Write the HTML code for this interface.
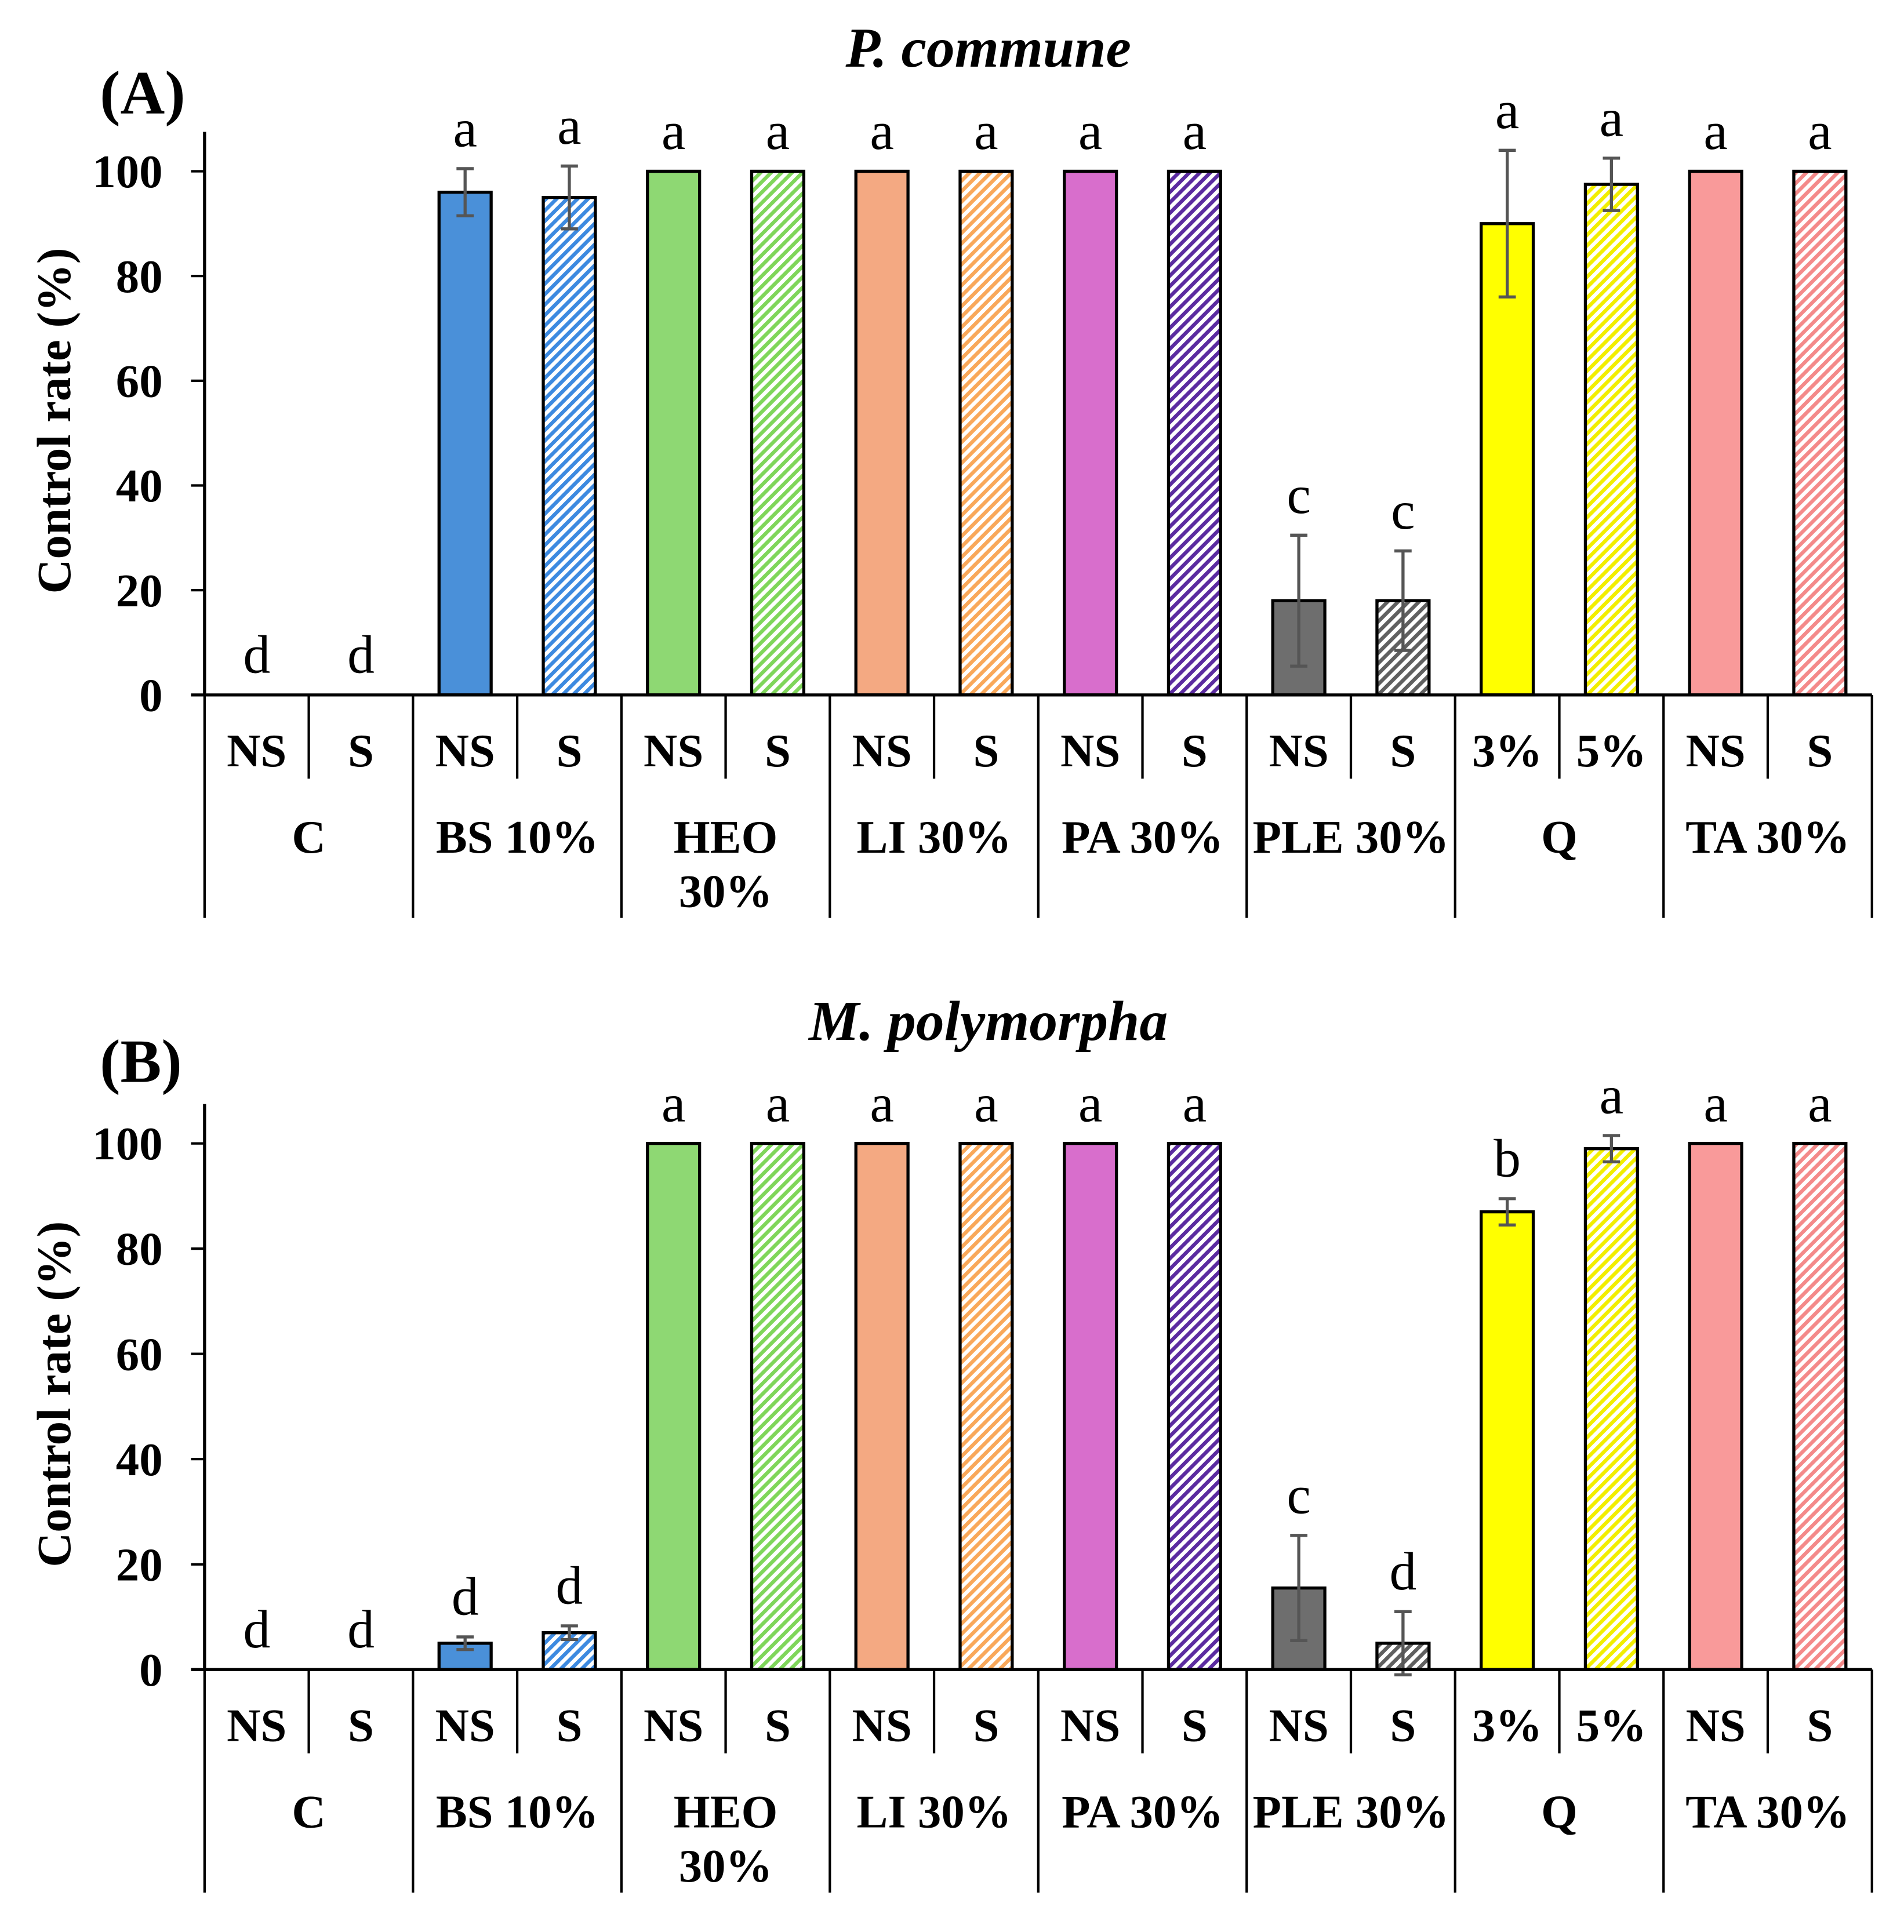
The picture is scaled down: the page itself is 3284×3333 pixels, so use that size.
<!DOCTYPE html>
<html><head><meta charset="utf-8"><style>
html,body{margin:0;padding:0;background:#fff;}
svg{display:block;}
</style></head><body>
<svg id="chart" xmlns="http://www.w3.org/2000/svg" width="3284" height="3333" viewBox="0 0 1545 1568" preserveAspectRatio="none" font-family="'Liberation Serif', serif">
<defs>
</defs>
</svg>
<script>
const groups = ["C","BS 10%","HEO|30%","LI 30%","PA 30%","PLE 30%","Q","TA 30%"];
const subLabels = ["NS","S","NS","S","NS","S","NS","S","NS","S","NS","S","3%","5%","NS","S"];
const colorsNS = ["#ffffff","#4a90d9","#8ed873","#f4a982","#d86ecc","#6e6e6e","#ffff00","#f99a9a"];
const colorsS  = ["#ffffff","#3d8ae0","#7fd65a","#f9a85a","#5b2ba0","#606060","#f2ee00","#f48a8a"];
const yTicks = [0,20,40,60,80,100];
const valuesA = [0,0,96,95,100,100,100,100,100,100,18,18,90,97.5,100,100];
const errorsA = [0,0,4.5,6,0,0,0,0,0,0,12.5,9.5,14,5,0,0];
const lettersA = ["d","d","a","a","a","a","a","a","a","a","c","c","a","a","a","a"];
const valuesB = [0,0,5,7,100,100,100,100,100,100,15.5,5,87,99,100,100];
const errorsB = [0,0,1.2,1.3,0,0,0,0,0,0,10,6,2.5,2.5,0,0];
const lettersB = ["d","d","d","d","a","a","a","a","a","a","c","d","b","a","a","a"];

const svg = document.getElementById('chart');
const NS = 'http://www.w3.org/2000/svg';
const defs = svg.querySelector('defs');
function mk(tag, attrs, parent){
  const e = document.createElementNS(NS, tag);
  for (const k in attrs) e.setAttribute(k, attrs[k]);
  (parent||svg).appendChild(e);
  return e;
}
colorsS.forEach((c,i)=>{
  const p = mk('pattern',{id:'h'+i,patternUnits:'userSpaceOnUse',width:6,height:6,patternTransform:'rotate(-45)'},defs);
  mk('rect',{x:0,y:0,width:6,height:6,fill:'#fff'},p);
  mk('rect',{x:0,y:0,width:6,height:3,fill:c},p);
});

const x0 = 166, x1 = 1519, nSlots = 16;
const slotW = (x1-x0)/nSlots;
function xc(i){ return x0 + slotW*(i+0.5); }

function panel(cfg){
  const g = mk('g',{});
  
  
  const y = v => cfg.y0 - (cfg.y0-cfg.y100)*v/100;
  const t = mk('text',{x:802,y:cfg.titleY,'text-anchor':'middle','font-size':46,'font-weight':'bold','font-style':'italic'},g);
  t.textContent = cfg.title;
  
  
  const lab = mk('text',{x:81,y:cfg.labelY,'font-size':50,'font-weight':'bold'},g);
  lab.textContent = cfg.label;
  
  
  const yt = mk('text',{x:0,y:0,'text-anchor':'middle','font-size':39,'font-weight':'bold',transform:`translate(57,${(cfg.y0+cfg.y100)/2-10}) rotate(-90)`},g);
  yt.textContent = 'Control rate (%)';
  
  
  const ya = mk('line',{x1:x0,y1:cfg.y100-32,x2:x0,y2:cfg.y0,stroke:'#000','stroke-width':2.5},g);
  
  
  yTicks.forEach(v=>{
    mk('line',{x1:x0-11,y1:y(v),x2:x0,y2:y(v),stroke:'#000','stroke-width':2},g);
    const tl = mk('text',{x:x0-34,y:y(v)+13,'text-anchor':'end','font-size':38,'font-weight':'bold'},g);
    tl.textContent = v;
    
    
  });
  cfg.values.forEach((v,i)=>{
    const grp = Math.floor(i/2), isS = i%2===1;
    const bw = slotW*0.5;
    const top = y(v);
    if (v>0){
      const r = mk('rect',{x:xc(i)-bw/2,y:top,width:bw,height:cfg.y0-top,fill:isS?`url(#h${grp})`:colorsNS[grp],stroke:'#000','stroke-width':2.5},g);
      
      
    }
    const e = cfg.errors[i];
    if (e>0){
      const eg = mk('g',{stroke:'#555','stroke-width':2.5},g);
      
      
      mk('line',{x1:xc(i),y1:y(v+e),x2:xc(i),y2:y(v-e)},eg);
      mk('line',{x1:xc(i)-7,y1:y(v+e),x2:xc(i)+7,y2:y(v+e)},eg);
      mk('line',{x1:xc(i)-7,y1:y(v-e),x2:xc(i)+7,y2:y(v-e)},eg);
    }
    const lt = mk('text',{x:xc(i),y:y(v+e)-18,'text-anchor':'middle','font-size':44},g);
    lt.textContent = cfg.letters[i];
    
    
    const sl = mk('text',{x:xc(i),y:cfg.y0+58,'text-anchor':'middle','font-size':38,'font-weight':'bold'},g);
    sl.textContent = subLabels[i];
    
    
  });
  const xa = mk('line',{x1:x0-11,y1:cfg.y0,x2:x1,y2:cfg.y0,stroke:'#000','stroke-width':2.5},g);
  
  
  for (let k=0;k<=nSlots;k++){
    const xx = x0+slotW*k;
    const long = k%2===0;
    mk('line',{x1:xx,y1:cfg.y0,x2:xx,y2:long?cfg.y0+181:cfg.y0+68,stroke:'#000','stroke-width':2},g);
  }
  groups.forEach((gname,j)=>{
    const parts = gname.split('|');
    parts.forEach((p,pi)=>{
      const gt = mk('text',{x:x0+slotW*(2*j+1),y:cfg.y0+128+pi*44,'text-anchor':'middle','font-size':38,'font-weight':'bold'},g);
      gt.textContent = p;
      
      
    });
  });
}
panel({name:'panel-a',title:'P. commune',label:'(A)',titleY:54,labelY:92,y0:564,y100:139,values:valuesA,errors:errorsA,letters:lettersA});
panel({name:'panel-b',title:'M. polymorpha',label:'(B)',titleY:844,labelY:878,y0:1355,y100:928,values:valuesB,errors:errorsB,letters:lettersB});
</script>
</body></html>
